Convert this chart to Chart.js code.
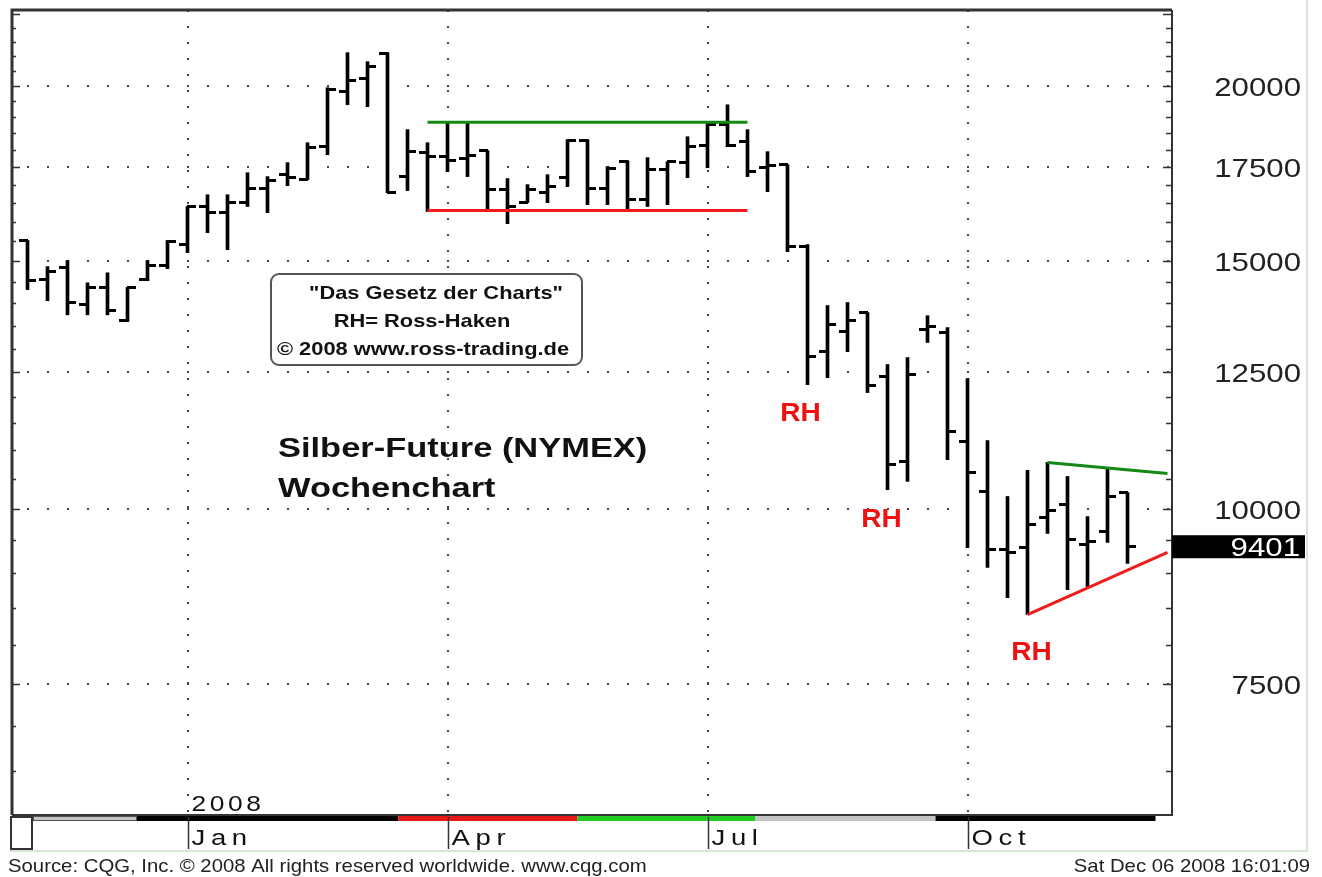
<!DOCTYPE html>
<html>
<head>
<meta charset="utf-8">
<script src="https://cdn.jsdelivr.net/npm/chart.js@4.4.1/dist/chart.umd.min.js"></script>
<style>
  html, body { margin: 0; padding: 0; background: #fff; }
  #wrap { width: 1322px; height: 877px; }
</style>
</head>
<body>
<div id="wrap"><canvas id="my-chart" width="1322" height="877"></canvas></div>
<script>
// weekly silver futures bars (Nov 2007 - Dec 2008)
const weekOpen = [15520, 14560, 14850, 13970, 14370, 13620, 14560, 14890, 15420, 16410,
  16245, 16515, 16900, 17290, 17150, 18100, 19810, 20240, 21085, 17235,
  17925, 17805, 17750, 17985, 16870, 16515, 16790, 17205, 18280, 16900,
  17660, 16595, 17430, 17635, 18135, 18770, 18250, 17490, 17575, 15365,
  12935, 13365, 13790, 12415, 10800, 13410, 13345, 11160, 10285, 9350,
  9380, 9855, 10065, 9425, 9630, 10265];
const weekHigh = [15520, 14870, 15020, 14480, 14720, 14370, 15020, 15520, 16410, 16730,
  16730, 17345, 17235, 17635, 18220, 19940, 21120, 20810, 21120, 18615,
  18220, 18830, 18830, 17985, 17180, 17010, 17290, 18310, 18310, 17520,
  17690, 17780, 17660, 18400, 18830, 19390, 18615, 17955, 17575, 15420,
  13950, 14020, 13790, 12665, 12810, 13720, 13455, 12375, 11180, 10200,
  10645, 10785, 10540, 9870, 10680, 10265];
const weekLow = [14320, 14060, 13740, 13740, 13740, 13590, 14530, 14820, 15215, 15720,
  15290, 16410, 16245, 16980, 17150, 17865, 19390, 19330, 16790, 16845,
  16275, 17375, 17235, 16350, 15955, 16515, 16515, 16955, 16460, 16460,
  16275, 16410, 16460, 17205, 17490, 18100, 17235, 16815, 15240, 12255,
  12395, 12935, 12095, 10315, 10455, 13130, 10835, 9380, 9080, 8640,
  8405, 9600, 8755, 8800, 9460, 9140];
const weekClose = [14530, 14750, 14020, 14370, 13835, 14370, 14890, 15490, 16410, 16245,
  16515, 16900, 17120, 17205, 18075, 19875, 20170, 20640, 16790, 17955,
  17805, 17690, 17835, 16870, 16410, 16870, 16955, 18280, 16900, 17460,
  16595, 17430, 17660, 18100, 18770, 18135, 17375, 17550, 15365, 12830,
  13520, 13610, 12235, 10750, 12455, 13475, 11345, 10610, 9350, 9305,
  9740, 9970, 9505, 9475, 10200, 9401];

const monthLabels = ['Jan', 'Apr', 'Jul', 'Oct'];
const monthIndex = [8, 21, 34, 47];
const priceTicks = [7500, 10000, 12500, 15000, 17500, 20000];
const lastPrice = 9401;

// trend lines drawn on the chart
const rangeTop = [{x: 20, y: 18840}, {x: 36, y: 18840}];
const rangeBottom = [{x: 20, y: 16300}, {x: 36, y: 16300}];
const triangleTop = [{x: 51, y: 10785}, {x: 57, y: 10590}];
const triangleBottom = [{x: 50, y: 8405}, {x: 57, y: 9305}];

// "RH" marks (week index, price at text baseline)
const rhMarks = [[38.65, 11552], [42.7, 9709], [50.2, 7807]];

const FONT = "'Liberation Sans', Arial, sans-serif";

const tickImage = side => {
  const c = document.createElement('canvas');
  c.width = 17;
  c.height = 3;
  const g = c.getContext('2d');
  g.fillStyle = '#000';
  if (side === 'left') g.fillRect(0, 0, 9, 3);
  else g.fillRect(8, 0, 9, 3);
  return c;
};

// the source picture is stretched sideways, so text gets a horizontal scale
const drawText = (ctx, text, x, y, o) => {
  const stretch = o.stretch || 1, spacing = o.spacing || 0;
  ctx.save();
  ctx.font = o.font;
  ctx.fillStyle = o.color || '#111';
  ctx.letterSpacing = spacing + 'px';
  ctx.textAlign = 'left';
  ctx.textBaseline = 'alphabetic';
  const w = (ctx.measureText(text).width - spacing) * stretch;
  const sx = o.align === 'right' ? x - w : (o.align === 'center' ? x - w / 2 : x);
  ctx.translate(sx, y);
  ctx.scale(stretch, 1);
  ctx.fillText(text, 0, 0);
  ctx.restore();
};

const decor = {
  id: 'decor',
  beforeDraw(chart) {
    const ctx = chart.ctx;
    ctx.save();
    ctx.fillStyle = '#fff';
    ctx.fillRect(0, 0, chart.width, chart.height);
    ctx.restore();
  },
  afterDraw(chart) {
    const {ctx, chartArea: a, scales: {x, y}} = chart;
    ctx.save();

    // outer light frame
    ctx.strokeStyle = '#d4e8d4';
    ctx.lineWidth = 2;
    ctx.beginPath();
    ctx.moveTo(1307, 0);
    ctx.lineTo(1307, 851);
    ctx.lineTo(10, 851);
    ctx.stroke();

    // plot frame
    ctx.strokeStyle = '#333';
    ctx.lineWidth = 3;
    ctx.beginPath();
    ctx.moveTo(a.left, a.bottom);
    ctx.lineTo(a.left, a.top);
    ctx.lineTo(a.right, a.top);
    ctx.stroke();
    ctx.lineWidth = 2;
    ctx.beginPath();
    ctx.moveTo(a.right, a.top);
    ctx.lineTo(a.right, a.bottom);
    ctx.lineTo(a.left, a.bottom);
    ctx.stroke();

    // price ticks on both edges
    ctx.lineWidth = 1.5;
    for (let v = 6500; v <= 22500; v += 500) {
      const py = Math.round(y.getPixelForValue(v)) + 0.5;
      if (py < a.top || py > a.bottom) continue;
      const major = v % 2500 === 0;
      ctx.beginPath();
      ctx.moveTo(a.right - (major ? 9 : 6), py);
      ctx.lineTo(a.right, py);
      ctx.moveTo(a.left, py);
      ctx.lineTo(a.left + (major ? 8 : 4), py);
      ctx.stroke();
    }

    // price labels
    priceTicks.forEach(v => {
      drawText(ctx, String(v), 1301, y.getPixelForValue(v) + 10,
        {font: '26px ' + FONT, stretch: 1.2, align: 'right', color: '#222'});
    });

    // last price box
    const lp = y.getPixelForValue(lastPrice);
    ctx.fillStyle = '#000';
    ctx.fillRect(a.right, lp - 11, 1305 - a.right, 23);
    drawText(ctx, String(lastPrice), 1300, lp + 10,
      {font: '26px ' + FONT, stretch: 1.2, align: 'right', color: '#fff'});

    // quarter strip under the plot
    const strip = [[0.3, 5.45, '#c4c4c4'], [5.45, 18.55, '#000'], [18.55, 27.5, '#e81818'],
      [27.5, 36.4, '#22cc22'], [36.4, 45.4, '#c4c4c4'], [45.4, 56.4, '#000']];
    strip.forEach(([s, e, c]) => {
      const x0 = x.getPixelForValue(s), x1 = x.getPixelForValue(e);
      ctx.fillStyle = c;
      ctx.fillRect(x0, a.bottom + 1, x1 - x0, 5);
    });
    ctx.strokeStyle = '#555';
    ctx.lineWidth = 1;
    ctx.strokeRect(x.getPixelForValue(0.3), a.bottom + 1.5, x.getPixelForValue(5.45) - x.getPixelForValue(0.3), 4);

    // small box bottom left
    ctx.fillStyle = '#fff';
    ctx.strokeStyle = '#333';
    ctx.lineWidth = 2;
    ctx.fillRect(11, a.bottom + 2, 21, 32);
    ctx.strokeRect(11, a.bottom + 2, 21, 32);

    // month labels
    monthIndex.forEach((m, i) => {
      const px = Math.round(x.getPixelForValue(m)) + 0.5;
      ctx.strokeStyle = '#333';
      ctx.lineWidth = 1.5;
      ctx.beginPath();
      ctx.moveTo(px, a.bottom + 2);
      ctx.lineTo(px, a.bottom + 34);
      ctx.stroke();
      drawText(ctx, monthLabels[i], px + 3, a.bottom + 30,
        {font: '22px ' + FONT, stretch: 1.25, spacing: 4.5, color: '#111'});
    });
    drawText(ctx, '2008', x.getPixelForValue(monthIndex[0]) + 4, a.bottom - 4,
      {font: '22px ' + FONT, stretch: 1.2, spacing: 3, color: '#111'});

    // RH marks
    rhMarks.forEach(([mx, my]) => {
      drawText(ctx, 'RH', x.getPixelForValue(mx), y.getPixelForValue(my),
        {font: 'bold 25px ' + FONT, stretch: 1.12, align: 'center', color: '#ee1111'});
    });

    // info box
    ctx.strokeStyle = '#555';
    ctx.lineWidth = 2;
    ctx.fillStyle = '#fff';
    ctx.beginPath();
    ctx.roundRect(271, 274, 311, 91, 8);
    ctx.fill();
    ctx.stroke();
    const boxFont = {font: 'bold 19px ' + FONT, stretch: 1.15, align: 'center', color: '#111'};
    drawText(ctx, '"Das Gesetz der Charts"', 436, 299, boxFont);
    drawText(ctx, 'RH= Ross-Haken', 422, 327, boxFont);
    drawText(ctx, '\u00a9 2008 www.ross-trading.de', 423, 355, boxFont);

    // title
    const titleFont = {font: 'bold 28px ' + FONT, stretch: 1.23, color: '#111'};
    drawText(ctx, 'Silber-Future (NYMEX)', 278, 457, titleFont);
    drawText(ctx, 'Wochenchart', 278, 497, titleFont);

    // footer
    const footFont = {font: '19px ' + FONT, stretch: 1.07, color: '#222'};
    drawText(ctx, 'Source: CQG, Inc. \u00a9 2008 All rights reserved worldwide. www.cqg.com', 8, 872, footFont);
    drawText(ctx, 'Sat Dec 06 2008 16:01:09', 1310, 872, Object.assign({}, footFont, {align: 'right'}));

    ctx.restore();
  }
};

const idx = weekOpen.map((_, i) => i);

const ctx = document.getElementById('my-chart');
const myChart = new Chart(ctx, {
  type: 'bar',
  data: {
    datasets: [
      {
        type: 'line', data: rangeTop, borderColor: '#138a13', borderWidth: 3,
        pointRadius: 0, order: 0
      },
      {
        type: 'line', data: rangeBottom, borderColor: '#f01c1c', borderWidth: 3,
        pointRadius: 0, order: 0
      },
      {
        type: 'line', data: triangleTop, borderColor: '#138a13', borderWidth: 3,
        pointRadius: 0, order: 0
      },
      {
        type: 'line', data: triangleBottom, borderColor: '#f01c1c', borderWidth: 3,
        pointRadius: 0, order: 0
      },
      {
        type: 'scatter', data: idx.map(i => ({x: i, y: weekOpen[i]})),
        pointStyle: tickImage('left'), order: 1
      },
      {
        type: 'scatter', data: idx.map(i => ({x: i, y: weekClose[i]})),
        pointStyle: tickImage('right'), order: 1
      },
      {
        type: 'bar', data: idx.map(i => ({x: i, y: [weekLow[i], weekHigh[i]]})),
        backgroundColor: '#000', borderWidth: 0, barThickness: 3, grouped: false, order: 2
      }
    ]
  },
  options: {
    responsive: false,
    animation: false,
    events: [],
    layout: { padding: { left: 12, top: 10, right: 150, bottom: 62 } },
    plugins: { legend: { display: false }, tooltip: { enabled: false } },
    scales: {
      x: {
        type: 'linear', min: -0.775, max: 57.225, offset: false,
        afterBuildTicks: s => { s.ticks = monthIndex.map(v => ({value: v})); },
        afterFit: s => { s.height = 0; },
        ticks: { display: false },
        grid: { color: '#444', lineWidth: 2, drawTicks: false, offset: false },
        border: { display: false, dash: [2, 14], dashOffset: 0 }
      },
      y: {
        type: 'logarithmic', position: 'right', min: 6050, max: 22650,
        afterBuildTicks: s => { s.ticks = priceTicks.map(v => ({value: v})); },
        afterFit: s => { s.width = 0; },
        ticks: { display: false },
        grid: { color: '#444', lineWidth: 2, drawTicks: false },
        border: { display: false, dash: [2, 18], dashOffset: 5 }
      }
    }
  },
  plugins: [decor]
});
</script>
</body>
</html>
